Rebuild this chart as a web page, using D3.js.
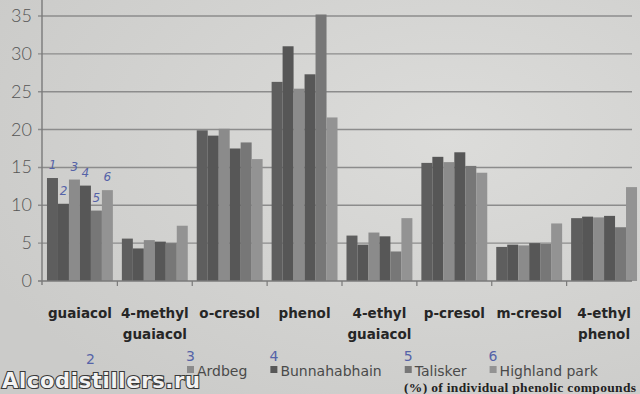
<!DOCTYPE html>
<html>
<head>
<meta charset="utf-8">
<script src="https://cdn.jsdelivr.net/npm/d3@7"></script>
<style>
  html, body { margin: 0; padding: 0; background: #d3d3d1; }
  svg { display: block; }
</style>
</head>
<body>
<div id="chart"></div>
<script>
//-- Data --//
var categories = ["guaiacol", "4-methyl guaiacol", "o-cresol", "phenol",
                  "4-ethyl guaiacol", "p-cresol", "m-cresol", "4-ethyl phenol"];
var catLines = [["guaiacol"], ["4-methyl", "guaiacol"], ["o-cresol"], ["phenol"],
                ["4-ethyl", "guaiacol"], ["p-cresol"], ["m-cresol"], ["4-ethyl", "phenol"]];
var seriesNames = ["1", "2", "Ardbeg", "Bunnahabhain", "Talisker", "Highland park"];
var s1 = [13.6, 5.6, 19.9, 26.3, 6.0, 15.6, 4.5, 8.3],
    s2 = [10.2, 4.3, 19.2, 31.0, 4.8, 16.4, 4.8, 8.5],
    s3 = [13.4, 5.4, 20.1, 25.4, 6.4, 15.7, 4.7, 8.4],
    s4 = [12.6, 5.2, 17.5, 27.3, 5.9, 17.0, 5.0, 8.6],
    s5 = [9.3, 5.0, 18.3, 35.2, 3.9, 15.2, 4.9, 7.1],
    s6 = [12.0, 7.3, 16.1, 21.6, 8.3, 14.3, 7.6, 12.4];
var yTicks = [0, 5, 10, 15, 20, 25, 30, 35];
var handNumbers = ["1", "2", "3", "4", "5", "6"];

var series = [s1, s2, s3, s4, s5, s6];
var colors = ["#5e5e5e", "#565656", "#8b8b8b", "#575757", "#777777", "#939393"];

//-- SVG --//
var W = 640, H = 394;
var svg = d3.select("#chart").append("svg")
  .attr("width", W)
  .attr("height", H);

// paper background with soft light falloff
var defs = svg.append("defs");
var grad = defs.append("radialGradient").attr("id", "paper")
  .attr("cx", "70%").attr("cy", "35%").attr("r", "80%");
grad.append("stop").attr("offset", "0%").attr("stop-color", "#dcdcda");
grad.append("stop").attr("offset", "100%").attr("stop-color", "#cbcbc9");
svg.append("rect").attr("width", W).attr("height", H).attr("fill", "url(#paper)");

//-- Scales --//
var x0 = d3.scaleBand().domain(categories).range([38, 646]).padding(0.12);
var x1 = d3.scaleBand().domain(d3.range(series.length)).range([0, x0.bandwidth()]);
var y = d3.scaleLinear().domain([0, 35]).range([281, 16]);
var axisLeft = 42, gridRight = 632;

// gridlines
svg.append("g").selectAll("line")
  .data(yTicks.filter(function(d) { return d > 0; }))
  .enter().append("line")
  .attr("x1", axisLeft - 4).attr("x2", gridRight)
  .attr("y1", function(d) { return y(d); })
  .attr("y2", function(d) { return y(d); })
  .attr("stroke", "#8c8c8c").attr("stroke-width", 1.4);

// y tick labels
svg.append("g").selectAll("text")
  .data(yTicks)
  .enter().append("text")
  .attr("x", 32)
  .attr("y", function(d) { return y(d) + 6; })
  .attr("text-anchor", "end")
  .attr("font-family", "Lato, 'Open Sans', sans-serif")
  .attr("font-weight", 300)
  .attr("font-size", 18)
  .attr("fill", "#555")
  .text(function(d) { return d; });

//-- Bars --//
var groups = svg.append("g").selectAll("g")
  .data(categories)
  .enter().append("g")
  .attr("transform", function(d) { return "translate(" + x0(d) + ",0)"; });

groups.selectAll("rect")
  .data(function(d, i) { return series.map(function(s, k) { return {k: k, v: s[i]}; }); })
  .enter().append("rect")
  .attr("x", function(d) { return x1(d.k); })
  .attr("width", x1.bandwidth())
  .attr("y", function(d) { return y(d.v); })
  .attr("height", function(d) { return y(0) - y(d.v); })
  .attr("fill", function(d) { return colors[d.k]; });

// handwritten numbers above the first group
svg.append("g").selectAll("text")
  .data(handNumbers)
  .enter().append("text")
  .attr("x", function(d, k) { return x0(categories[0]) + x1(k) + x1.bandwidth() / 2; })
  .attr("y", function(d, k) { return y(series[k][0]) - 9; })
  .attr("text-anchor", "middle")
  .attr("font-family", "'DejaVu Sans', sans-serif")
  .attr("font-style", "italic")
  .attr("font-size", 12)
  .attr("fill", "#5563a8")
  .text(function(d) { return d; });

//-- Axes lines --//
svg.append("line")
  .attr("x1", axisLeft).attr("x2", axisLeft)
  .attr("y1", 0).attr("y2", y(0) + 4)
  .attr("stroke", "#7a7a7a").attr("stroke-width", 1.4);
svg.append("line")
  .attr("x1", axisLeft - 4).attr("x2", gridRight)
  .attr("y1", y(0)).attr("y2", y(0))
  .attr("stroke", "#7a7a7a").attr("stroke-width", 1.4);

// category ticks at band boundaries
var step = x0.step();
svg.append("g").selectAll("line")
  .data(categories)
  .enter().append("line")
  .attr("x1", function(d) { return x0(d) - step * x0.paddingInner() / 2 + step; })
  .attr("x2", function(d) { return x0(d) - step * x0.paddingInner() / 2 + step; })
  .attr("y1", y(0)).attr("y2", y(0) + 5)
  .attr("stroke", "#7a7a7a").attr("stroke-width", 1.2);

// category labels
var catLabels = svg.append("g").selectAll("text")
  .data(categories)
  .enter().append("text")
  .attr("x", function(d) { return x0(d) + x0.bandwidth() / 2; })
  .attr("y", 318)
  .attr("text-anchor", "middle")
  .attr("font-family", "'DejaVu Sans', sans-serif")
  .attr("font-weight", "bold")
  .attr("font-size", 13.5)
  .attr("fill", "#262626");
catLabels.each(function(d, i) {
  var t = d3.select(this);
  catLines[i].forEach(function(line, j) {
    t.append("tspan")
      .attr("x", x0(d) + x0.bandwidth() / 2)
      .attr("dy", j === 0 ? 0 : 21)
      .text(line);
  });
});

//-- Legend (entries 3-6 visible) --//
var legend = svg.append("g");
var lx = 186;
for (var k = 2; k < seriesNames.length; k++) {
  var item = legend.append("g").attr("transform", "translate(" + lx + ",0)");
  item.append("text")
    .attr("x", 0).attr("y", 361)
    .attr("font-family", "'DejaVu Sans', sans-serif")
    .attr("font-size", 14)
    .attr("fill", "#5563a8")
    .text(handNumbers[k]);
  item.append("rect")
    .attr("x", 1).attr("y", 366)
    .attr("width", 7).attr("height", 7)
    .attr("fill", colors[k]);
  var t = item.append("text")
    .attr("x", 11).attr("y", 376)
    .attr("font-family", "'DejaVu Sans', sans-serif")
    .attr("font-size", 14)
    .attr("fill", "#4a4a4a")
    .text(seriesNames[k]);
  lx += 11 + t.node().getComputedTextLength() + 22;
}
legend.append("text")
  .attr("x", 86).attr("y", 364)
  .attr("font-family", "'DejaVu Sans', sans-serif")
  .attr("font-size", 14)
  .attr("fill", "#5563a8")
  .text(handNumbers[1]);

// caption along the bottom edge of the photo
svg.append("text")
  .attr("x", 404).attr("y", 392)
  .attr("font-family", "'Liberation Serif', serif")
  .attr("font-weight", "bold")
  .attr("font-size", 13.5)
  .attr("textLength", 232)
  .attr("fill", "#222")
  .text("(%) of individual phenolic compounds");

// watermark
svg.append("text")
  .attr("x", 2).attr("y", 388)
  .attr("font-family", "'DejaVu Sans', sans-serif")
  .attr("font-weight", "bold")
  .attr("font-size", 21)
  .attr("textLength", 198)
  .attr("fill", "#f2f2f2")
  .attr("stroke", "#3a3a3a")
  .attr("stroke-width", 2.2)
  .attr("paint-order", "stroke")
  .text("Alcodistillers.ru");
</script>
</body>
</html>
